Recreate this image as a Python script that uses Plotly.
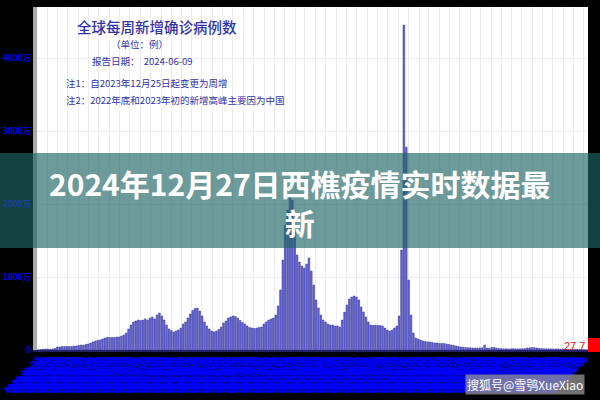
import pandas as pd
import plotly.graph_objects as go

# weekly new confirmed cases, millions
weekly_cases_m = [
    0.04, 0.07, 0.11, 0.14, 0.14, 0.11, 0.14,
    0.20,
    0.41, 0.41, 0.48, 0.48, 0.48, 0.48, 0.48, 0.55, 0.55,
    0.62, 0.68, 0.68, 0.75, 0.82, 0.96,
    1.10, 1.23, 1.30, 1.37,
    1.51, 1.64, 1.71, 1.71, 1.71, 1.71, 1.78, 1.78,
    1.92, 2.05, 2.33, 2.88, 3.42, 3.84, 3.97, 4.11, 4.04, 4.11, 4.25, 4.11, 4.38, 4.52, 4.25, 4.79, 5.07, 4.66,
    4.11, 3.42, 2.88, 2.67, 2.47, 2.60, 2.74, 3.01, 3.56, 3.84, 4.38, 4.93, 5.41, 5.68, 5.75, 5.34, 4.66, 3.84,
    3.29, 2.88, 2.60, 2.47, 2.60, 2.81, 3.15, 3.70, 3.97, 4.38, 4.52, 4.66, 4.59, 4.38, 4.04, 3.77, 3.56, 3.29,
    3.08, 3.01, 2.95, 3.01, 3.08, 3.15, 3.56, 3.84, 4.11, 4.25, 4.38, 4.79, 6.03, 8.22,
    12.33, 17.12, 19.18, 21.23, 20.55, 16.44, 13.01, 12.05, 11.51, 11.23, 11.78, 12.60, 10.82, 8.90, 6.85,
    5.75, 4.79, 4.11, 3.84, 3.56, 3.42, 3.42, 3.29, 3.29, 3.15,
    4.11, 5.21, 6.16, 6.99, 7.26, 7.40, 7.26, 6.85, 5.89, 5.21, 4.52, 3.84, 3.42, 3.36, 3.42, 3.36, 3.36, 3.29,
    3.01, 2.74, 2.60, 2.74, 3.01, 3.29, 4.66,
    13.70, 44.52, 27.81, 9.59, 4.79, 2.33,
    1.64, 1.51, 1.37, 1.23, 1.16, 1.10, 1.10, 1.03, 0.96, 0.96, 0.89, 0.89, 0.89, 0.82, 0.75, 0.68, 0.62,
    0.55, 0.48, 0.41, 0.38, 0.34, 0.32, 0.30, 0.27, 0.27, 0.27, 0.27, 0.30,
    0.68,
    0.27, 0.21, 0.34, 0.34, 0.27, 0.21,
    0.18, 0.16, 0.16, 0.15, 0.16, 0.17, 0.16, 0.15, 0.16, 0.17, 0.18,
    0.27, 0.30, 0.34, 0.32, 0.27, 0.22, 0.19,
    0.17, 0.16, 0.16, 0.15, 0.15, 0.14, 0.14, 0.13, 0.13, 0.12, 0.12, 0.11,
    0.10, 0.09, 0.08, 0.07, 0.06, 0.05, 0.04,
]

week_dates = [d.strftime("%Y-%m-%d") for d in pd.date_range("2020-01-05", periods=len(weekly_cases_m), freq="7D")]

y_tick_vals = [0, 10, 20, 30, 40]
y_tick_text = ["0", "1000万", "2000万", "3000万", "4000万"]

title_main = "全球每周新增确诊病例数"
title_unit = "（单位：例）"
title_date = "报告日期：  2024-06-09"
note_1 = "注1：自2023年12月25日起变更为周增"
note_2 = "注2：2022年底和2023年初的新增高峰主要因为中国"
banner_text = "2024年12月27日西樵疫情实时数据最<br>新"
last_label = "27.7"
watermark = "搜狐号@雪鸮XueXiao"

W, H = 600, 400
L, R, T, B = 37, 12, 7, 50
pw, ph = W - L - R, H - T - B


def px(x):
    return (x - L) / pw


def py(y):
    return (H - B - y) / ph


fig = go.Figure()
fig.add_trace(go.Bar(
    x=week_dates, y=weekly_cases_m,
    marker=dict(color="#6262d0", line=dict(color="#30309c", width=0.5)),
))

CJK = "Noto Sans CJK SC"
navy = "#3232a8"
ann = []
ann.append(dict(x=px(157), y=py(27), text=title_main, font=dict(size=14.5, color=navy, family=CJK, weight=500)))
ann.append(dict(x=px(139), y=py(44), text=title_unit, font=dict(size=9.5, color=navy, family=CJK)))
ann.append(dict(x=px(142), y=py(61), text=title_date, font=dict(size=9.5, color=navy, family=CJK)))
ann.append(dict(x=px(64), y=py(83), text=note_1, xanchor="left", font=dict(size=9.5, color=navy, family=CJK)))
ann.append(dict(x=px(64), y=py(100), text=note_2, xanchor="left", font=dict(size=9.5, color=navy, family=CJK)))
ann.append(dict(x=px(587), y=py(346), text=last_label, xanchor="right", font=dict(size=11, color="#e02020", family="Liberation Sans")))
ann.append(dict(x=px(300), y=py(202), text=banner_text, font=dict(size=30, color="white", family=CJK, weight=700)))
ann.append(dict(x=px(525), y=py(384), text=watermark, bgcolor="rgba(150,150,150,0.75)",
                font=dict(size=12, color="white", family=CJK)))
for a in ann:
    a.update(xref="paper", yref="paper", showarrow=False)
    a.setdefault("xanchor", "center")
    a.setdefault("yanchor", "middle")

shapes = [
    dict(type="rect", xref="paper", yref="paper", x0=px(0), x1=px(600), y0=py(248), y1=py(153),
         fillcolor="rgba(31,100,100,0.65)", line=dict(width=0), layer="above"),
    dict(type="rect", xref="paper", yref="paper", x0=px(588), x1=px(600), y0=py(352), y1=py(338),
         fillcolor="#ff0000", line=dict(width=0), layer="above"),
]

fig.update_layout(
    width=W, height=H,
    margin=dict(l=L, r=R, t=T, b=B),
    paper_bgcolor="black", plot_bgcolor="white",
    showlegend=False, bargap=0.3,
    annotations=ann, shapes=shapes,
    font=dict(family=CJK),
)
fig.update_xaxes(
    type="date",
    range=[pd.Timestamp("2020-01-01"), pd.Timestamp("2024-06-13")],
    tickmode="array", tickvals=week_dates, ticktext=week_dates,
    tickangle=-45, tickfont=dict(size=7.5, color="#0000ff", family="DejaVu Sans", weight="bold"),
    showgrid=False, ticks="",
    minor=dict(dtick="M1", showgrid=True, gridcolor="#ececf2", gridwidth=1, tick0="2020-01-01"),
    showline=True, linecolor="#222266", linewidth=2,
    automargin=False,
)
fig.update_yaxes(
    range=[0, 47], tickmode="array", tickvals=y_tick_vals, ticktext=y_tick_text,
    tickfont=dict(size=8.5, color="#0000ff", family=CJK, weight="bold"),
    showgrid=True, gridcolor="#ececf2", zeroline=False,
    showline=True, linecolor="#aaaaaa", linewidth=4,
    automargin=False, ticklabelstandoff=0,
)

fig.write_html("out.html", config={"displayModeBar": False},
               post_script="document.body.style.margin='0px';document.body.style.background='black';")
